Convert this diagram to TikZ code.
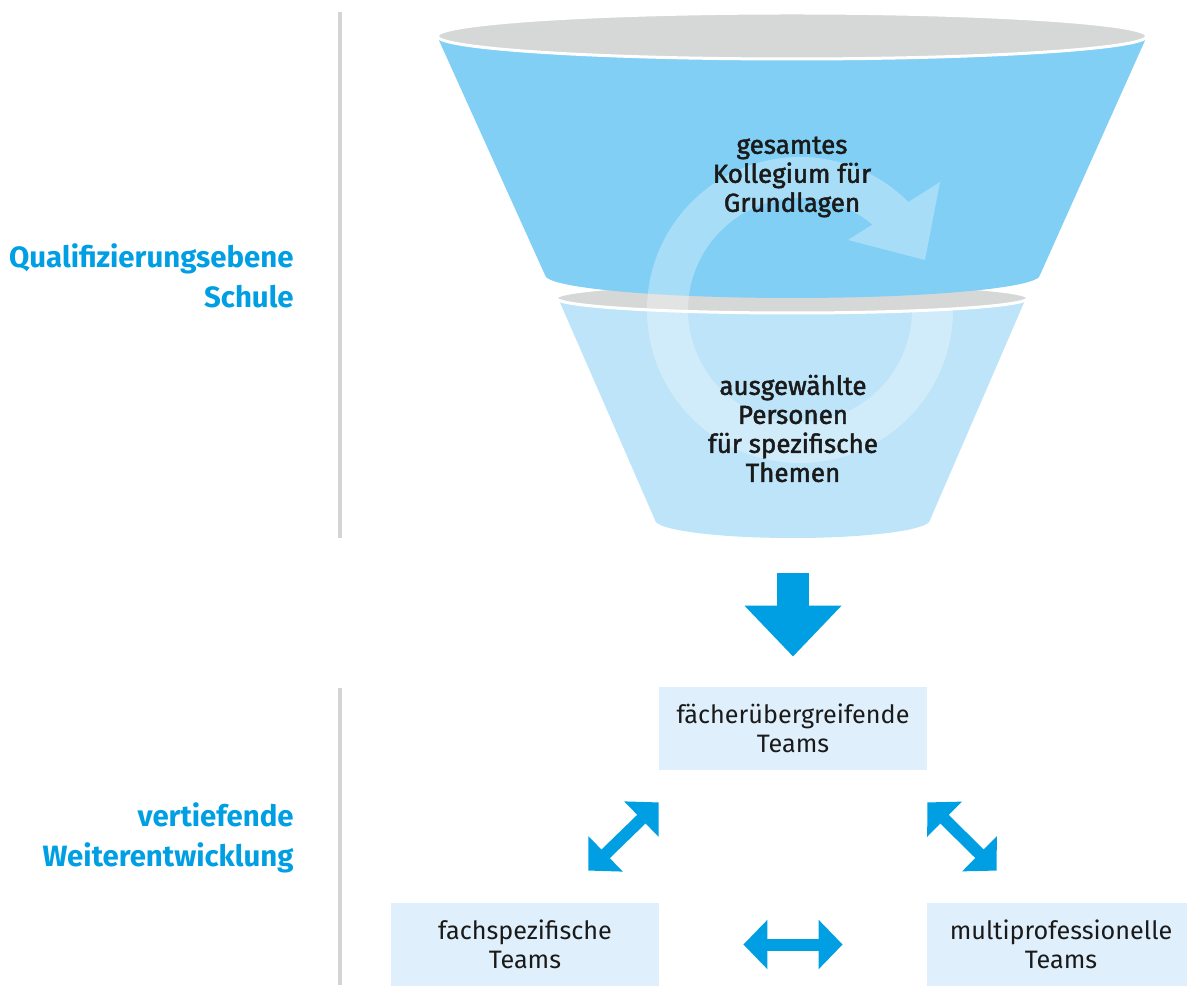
\documentclass[tikz,border=0pt]{standalone}
\usepackage{fontspec}
\setmainfont{Fira Sans}
\newfontfamily\medfont[FakeBold=1.8]{Fira Sans}
\usetikzlibrary{arrows.meta}
\definecolor{funA}{HTML}{81CFF4}
\definecolor{funB}{HTML}{BDE4F8}
\definecolor{rim}{HTML}{D6D8D8}
\definecolor{accent}{HTML}{009FE3}
\definecolor{boxfill}{HTML}{DFF0FC}
\definecolor{divider}{HTML}{D4D4D4}
\definecolor{ink}{HTML}{1A1A1A}
\tikzset{
  rimstyle/.style={fill=rim, draw=white, line width=1.5pt},
  funtext/.style={align=center, text=ink, font=\medfont\fontsize{13}{14.5}\selectfont, inner sep=0pt},
  sidelabel/.style={anchor=east, align=right, text=accent, font=\bfseries\fontsize{14.7}{20}\selectfont, inner sep=0pt},
  teambox/.style={fill=boxfill, text=ink, align=center, minimum width=134pt, minimum height=41.5pt, inner sep=0pt, font=\fontsize{12.6}{14.5}\selectfont},
  fatarrow/.style={draw=accent, line width=6pt, {Triangle[length=12pt,width=24pt]}-{Triangle[length=12pt,width=24pt]}},
}
\begin{document}
\begin{tikzpicture}[x=0.5pt,y=0.5pt]
\useasboundingbox (0,0) rectangle (1187,985);
% dividers
\draw[divider, line width=2pt] (340,973) -- (340,447);
\draw[divider, line width=2pt] (340,297) -- (340,0);
% lower funnel part
\fill[funB] (558,687) -- (655,465) arc[start angle=180,end angle=360,x radius=137.5,y radius=18] -- (1026,687) -- cycle;
\path[rimstyle] (792,687) ellipse[x radius=236, y radius=15];
% upper funnel part
\fill[funA] (437,949) -- (545,710) arc[start angle=180,end angle=360,x radius=247.5,y radius=23] -- (1147,949) -- cycle;
\path[rimstyle] (792,949) ellipse[x radius=355, y radius=23];
% circular arrow
\begin{scope}[shift={(800,675)}]
\fill[white, opacity=0.3] (0:153) arc[start angle=0, end angle=-315.1, radius=153]
  -- (140,128) -- (125,50) -- (48,70) -- (49.7:112)
  arc[start angle=49.7, end angle=360, radius=112] -- cycle;
\end{scope}
% funnel texts
\node[funtext] (whole) at (792,808) {gesamtes\\Kollegium für\\Grundlagen};
\node[funtext] (sel) at (793,556.5) {ausgewählte\\Personen\\für spezifische\\Themen};
% side labels
\node[sidelabel] (lab1) at (294,709) {Qualifizierungsebene\\Schule};
\node[sidelabel] (lab2) at (294,147.5) {vertiefende\\Weiterentwicklung};
% boxes
\node[teambox] (top) at (793,256.5) {fächerübergreifende\\Teams};
\node[teambox] (left) at (525,40.5) {fachspezifische\\Teams};
\node[teambox] (right) at (1061,40.5) {multiprofessionelle\\Teams};
% down arrow
\coordinate (dstart) at (793,412);
\coordinate (dend) at ([yshift=15pt]top.north);
\draw[accent, line width=16pt, -{Triangle[length=25.5pt,width=47pt]}] (dstart) -- (dend);
% connectors
\coordinate (a1) at ([yshift=-16pt]top.south west);
\coordinate (a2) at ([xshift=-35.5pt,yshift=16pt]left.north east);
\coordinate (b1) at ([yshift=-16pt]top.south east);
\coordinate (b2) at ([xshift=35pt,yshift=16pt]right.north west);
\coordinate (c1) at ([xshift=42pt]left.east);
\coordinate (c2) at ([xshift=-42pt]right.west);
\draw[fatarrow] (a2) -- (a1);
\draw[fatarrow] (b1) -- (b2);
\draw[fatarrow] (c1) -- (c2);
\end{tikzpicture}
\end{document}
